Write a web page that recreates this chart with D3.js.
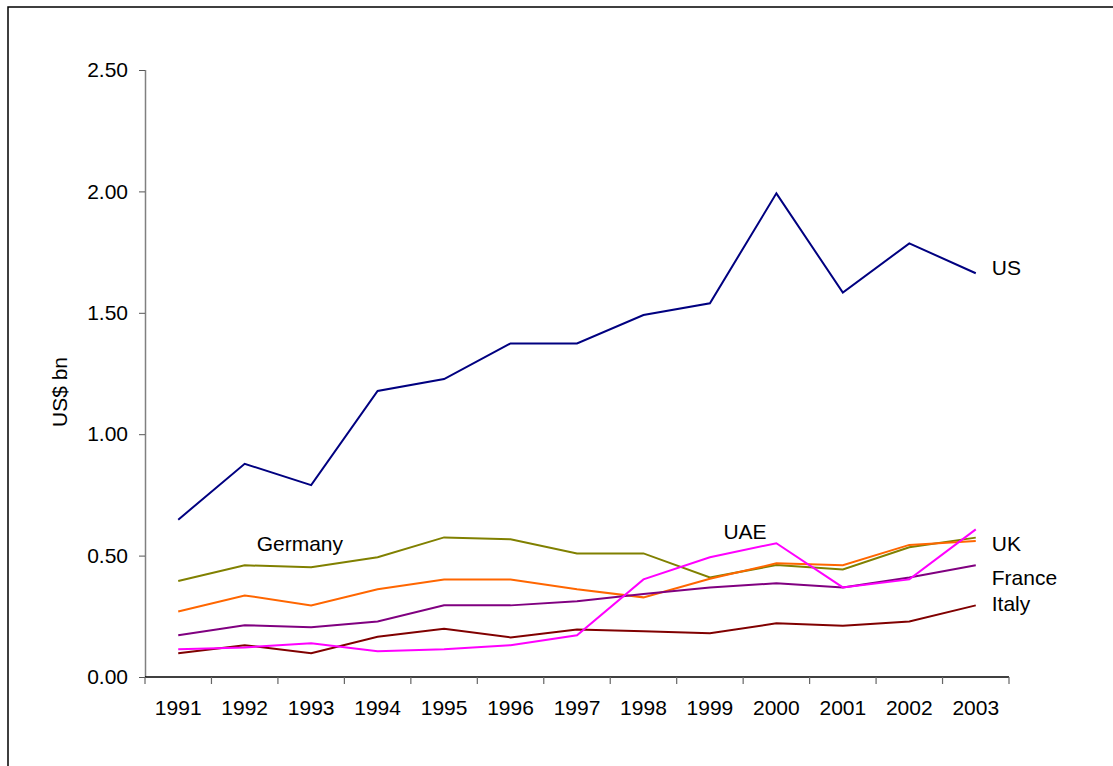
<!DOCTYPE html>
<meta charset="utf-8">
<style>
body { margin: 0; background: #fff; }
text { font-family: "Liberation Sans", Arial, sans-serif; fill: #000; }
.line { fill: none; stroke-width: 2px; stroke-linejoin: miter; }
</style>
<svg width="1113" height="766"></svg>
<script src="https://cdnjs.cloudflare.com/ajax/libs/d3/7.8.5/d3.min.js"></script>
<script>

var years = ["1991", "1992", "1993", "1994", "1995", "1996", "1997", "1998", "1999", "2000", "2001", "2002", "2003"];
var yTicks = [0, 0.5, 1, 1.5, 2, 2.5];

var us      = [0.648, 0.878, 0.790, 1.178, 1.227, 1.374, 1.374, 1.491, 1.539, 1.992, 1.583, 1.786, 1.663];
var germany = [0.395, 0.460, 0.452, 0.493, 0.575, 0.567, 0.509, 0.509, 0.410, 0.461, 0.443, 0.534, 0.574];
var uk      = [0.270, 0.336, 0.295, 0.361, 0.402, 0.402, 0.361, 0.328, 0.405, 0.468, 0.460, 0.544, 0.560];
var france  = [0.172, 0.213, 0.205, 0.229, 0.295, 0.295, 0.312, 0.342, 0.369, 0.386, 0.369, 0.410, 0.460];
var italy   = [0.098, 0.131, 0.098, 0.166, 0.199, 0.163, 0.196, 0.188, 0.180, 0.221, 0.211, 0.229, 0.295];
var uae     = [0.114, 0.122, 0.139, 0.106, 0.114, 0.131, 0.172, 0.402, 0.493, 0.551, 0.369, 0.402, 0.608];

var series = [
  {id: "Germany", values: germany, color: "#808000"},
  {id: "UK", values: uk, color: "#FF6600"},
  {id: "France", values: france, color: "#800080"},
  {id: "Italy", values: italy, color: "#800000"},
  {id: "UAE", values: uae, color: "#FF00FF"},
  {id: "US", values: us, color: "#000080"}
];

var svg = d3.select("svg"),
    margin = {top: 70, right: 104, bottom: 89, left: 145},
    width = 1113 - margin.left - margin.right,
    height = 766 - margin.top - margin.bottom;

// outer frame (runs off the right and bottom edges like the original)
svg.append("rect")
    .attr("x", 8).attr("y", 7)
    .attr("width", 1200).attr("height", 1000)
    .attr("fill", "none")
    .attr("stroke", "#000")
    .attr("stroke-width", 1.5);

var g = svg.append("g").attr("transform", "translate(" + margin.left + "," + margin.top + ")");

var x = d3.scaleBand().domain(years).range([0, width]),
    y = d3.scaleLinear().domain([0, 2.5]).range([height, 0]);

function xc(yr) { return x(yr) + x.bandwidth() / 2; }

// y axis
var yAxis = g.append("g")
    .call(d3.axisLeft(y).tickValues(yTicks).tickFormat(d3.format(".2f")).tickSize(6).tickPadding(11));
yAxis.select(".domain").attr("stroke", "#808080").attr("stroke-width", 1.5).attr("d", "M0.5," + height + "V0");
yAxis.selectAll(".tick line").attr("stroke", "#555");
yAxis.selectAll("text").style("font-size", "21px").style("font-family", "Liberation Sans, Arial, sans-serif").attr("fill", "#000");

// x axis with ticks between categories
var xAxis = g.append("g")
    .attr("transform", "translate(0," + height + ")");
xAxis.append("line")
    .attr("x1", 0).attr("x2", width)
    .attr("stroke", "#000").attr("stroke-width", 1.5);
xAxis.selectAll(".sep")
    .data(years.concat(["end"]))
    .enter().append("line")
    .attr("x1", function(d, i) { return i * x.bandwidth(); })
    .attr("x2", function(d, i) { return i * x.bandwidth(); })
    .attr("y1", 0).attr("y2", 7)
    .attr("stroke", "#666").attr("stroke-width", 1.2);
xAxis.selectAll(".lab")
    .data(years)
    .enter().append("text")
    .attr("x", function(d) { return xc(d); })
    .attr("y", 38)
    .attr("text-anchor", "middle")
    .style("font-size", "21px")
    .text(function(d) { return d; });

// y axis title
svg.append("text")
    .attr("transform", "translate(67,392) rotate(-90)")
    .attr("text-anchor", "middle")
    .style("font-size", "21px")
    .text("US$ bn");

var line = d3.line()
    .x(function(d, i) { return xc(years[i]); })
    .y(function(d) { return y(d); });

g.selectAll(".line")
    .data(series)
    .enter().append("path")
    .attr("class", "line")
    .attr("d", function(d) { return line(d.values); })
    .style("stroke", function(d) { return d.color; });

// series labels, placed in data units (year index offset, value)
var labelPos = [
  {id: "US", yr: 12, dx: 16, v: 1.656},
  {id: "UK", yr: 12, dx: 16, v: 0.519},
  {id: "France", yr: 12, dx: 16, v: 0.379},
  {id: "Italy", yr: 12, dx: 16, v: 0.272},
  {id: "UAE", yr: 9, dx: -53, v: 0.568},
  {id: "Germany", yr: 1, dx: 12, v: 0.519}
];

g.selectAll(".lbl")
    .data(labelPos)
    .enter().append("text")
    .attr("x", function(d) { return xc(years[d.yr]) + d.dx; })
    .attr("y", function(d) { return y(d.v); })
    .style("font-size", "21px")
    .text(function(d) { return d.id; });

</script>
